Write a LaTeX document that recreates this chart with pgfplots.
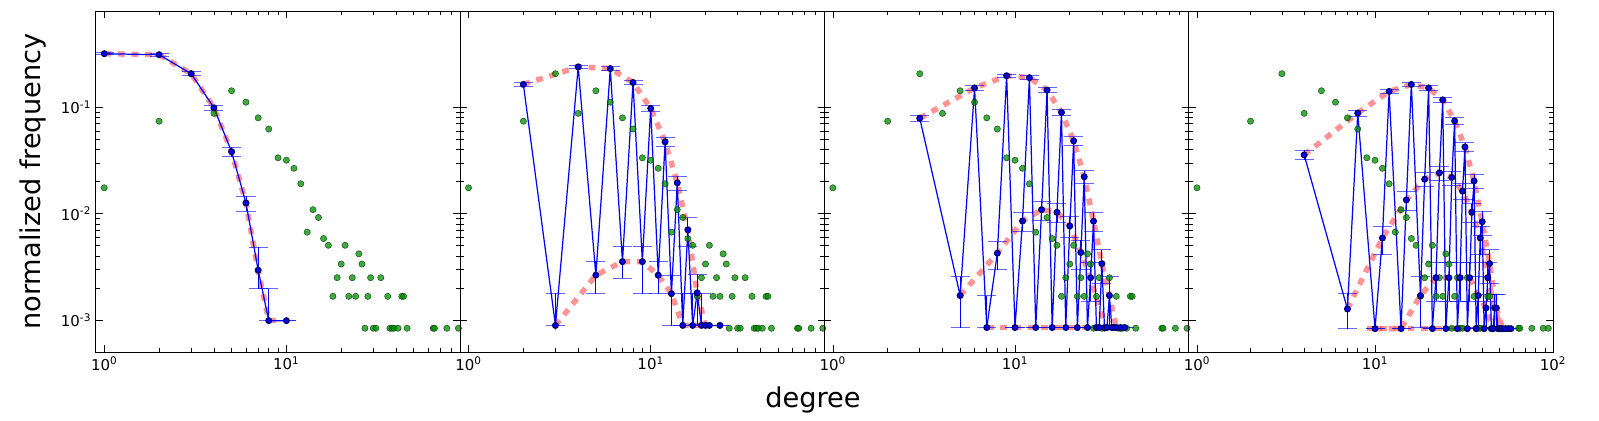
\documentclass[border=0pt]{standalone}
\usepackage{fontspec}
\setmainfont{DejaVu Sans}
\usepackage{pgfplots}
\usepackage{pgfplotstable}
\pgfplotsset{compat=1.18}

\pgfplotstableread{
x y
1 0.0175
2 0.074
3 0.207
4 0.0877
5 0.143
6 0.1117
7 0.0796
8 0.0625
9 0.0335
10 0.0318
11 0.0267
12 0.0191
13 0.0067
14 0.0109
15 0.0092
16 0.00583
17 0.00504
18 0.00167
19 0.0025
20 0.00336
21 0.00504
22 0.00167
23 0.0025
24 0.00167
25 0.00419
26 0.00336
27 0.000837
28 0.00167
29 0.0025
30 0.000837
31 0.000837
33 0.0025
36 0.00167
37 0.000837
38 0.000837
39 0.000837
41 0.000837
43 0.00167
44 0.00167
46 0.000837
64 0.000837
65 0.000837
76 0.000837
88 0.000837
94 0.000837
}\grnTab

\pgfplotstableread{
x y ep em
1 0.319 0.02 0.02
2 0.312 0.03 0.03
3 0.207 0.04 0.04
4 0.099 0.06 0.06
5 0.0382 0.1 0.1
6 0.0126 0.16 0.16
7 0.00294 0.65 0.33
8 0.000987 1.0 0
10 0.000987 0 0
}\blueA
\pgfplotstableread{
x y
1 0.319
2 0.312
3 0.207
4 0.099
5 0.038
6 0.0126
7 0.0029
8 0.00099
9 0.00099
}\redA

\pgfplotstableread{
x y ep em
2 0.164 .05 .05
3 0.00089 1 0
4 0.240 .04 .04
5 0.00264 .35 .33
6 0.231 .04 .04
7 0.00354 .4 .3
8 0.171 .05 .05
9 0.00354 .4 .5
10 0.0978 .07 .07
11 0.00264 .35 .33
12 0.0473 .1 .1
13 0.00177 .5 .5
14 0.0195 .15 .15
15 0.00089 1 0
16 0.00705 .3 .3
17 0.00089 1 0
18 0.0018 .5 .5
19 0.00089 1 0
20 0.00089 0 0
21 0.00089 0 0
24 0.00089 0 0
}\blueB
\pgfplotstableread{
x y
2 0.164
4 0.24
6 0.231
8 0.171
10 0.0978
12 0.0473
14 0.0195
16 0.00705
18 0.0018
20 0.00089
}\redBa
\pgfplotstableread{
x y
3 0.00089
5 0.00264
7 0.00354
9 0.00354
11 0.00264
13 0.00177
15 0.00089
17 0.00089
19 0.00089
21 0.00089
}\redBb

\pgfplotstableread{
x y ep em
3 0.079 .06 .06
5 0.0017 .5 .5
6 0.152 .05 .05
7 0.00085 1 0
8 0.00425 .3 .3
9 0.198 .04 .04
10 0.00085 0 0
11 0.00853 .2 .2
12 0.190 .04 .04
13 0.00085 0 0
14 0.0109 .2 .2
15 0.145 .05 .05
16 0.00085 0 0
17 0.0103 .2 .2
18 0.0896 .07 .07
19 0.00085 0 0
20 0.00766 .22 .22
21 0.0483 .1 .1
22 0.00085 0 0
23 0.00431 .3 .3
24 0.0222 .14 .14
25 0.00085 0 0
26 0.0025 .4 .4
27 0.0085 .2 .2
28 0.00085 0 0
29 0.00085 0 0
30 0.00339 .35 .35
31 0.00085 0 0
32 0.00085 0 0
33 0.0017 .5 .5
34 0.00085 0 0
35 0.00085 0 0
36 0.00085 0 0
38 0.00085 0 0
40 0.00085 0 0
}\blueC
\pgfplotstableread{
x y
3 0.079
6 0.152
9 0.198
12 0.19
15 0.145
18 0.0896
21 0.0483
24 0.0222
27 0.0085
30 0.0034
33 0.0017
36 0.00085
}\redCa
\pgfplotstableread{
x y
5 0.0017
8 0.00425
11 0.00853
14 0.0109
17 0.0103
20 0.00766
23 0.0043
26 0.0025
29 0.0013
32 0.00085
}\redCb
\pgfplotstableread{
x y
7 0.00085
16 0.00085
25 0.00085
37 0.00085
}\redCc

\pgfplotstableread{
x y ep em
4 0.0357 .1 .1
7 0.00127 .4 .35
8 0.0883 .07 .07
10 0.00083 0 0
11 0.0059 .3 .3
12 0.141 .05 .05
14 0.00083 0 0
15 0.01346 .2 .2
16 0.164 .05 .05
18 0.0017 .5 .5
19 0.0211 .15 .15
20 0.152 .05 .05
21 0.00083 0 0
22 0.0025 .4 .4
23 0.0242 .15 .15
24 0.1175 .06 .06
25 0.00083 0 0
26 0.0025 .4 .4
27 0.0219 .15 .15
28 0.0745 .08 .08
29 0.00083 0 0
30 0.0025 .4 .4
31 0.0163 .17 .17
32 0.0424 .1 .1
33 0.00083 0 0
34 0.0025 .4 .4
35 0.0103 .2 .2
36 0.0203 .15 .15
37 0.00083 0 0
38 0.0017 .5 .5
39 0.0059 .3 .3
40 0.0084 .25 .25
41 0.00083 0 0
42 0.0013 .35 .35
43 0.0025 .4 .4
44 0.0034 .35 .35
45 0.00083 0 0
46 0.00083 0 0
47 0.0013 .35 .35
48 0.0013 .35 .35
49 0.00083 0 0
50 0.00083 0 0
51 0.00083 0 0
52 0.00083 0 0
54 0.00083 0 0
56 0.00083 0 0
58 0.00083 0 0
}\blueD
\pgfplotstableread{
x y
4 0.0357
8 0.0883
12 0.141
16 0.164
20 0.152
24 0.1175
28 0.0745
32 0.0424
36 0.0203
40 0.0084
44 0.0034
48 0.0013
52 0.00083
}\redDa
\pgfplotstableread{
x y
7 0.00127
11 0.0059
15 0.01346
19 0.0211
23 0.0242
27 0.0219
31 0.0163
35 0.0103
39 0.0059
43 0.0025
47 0.0013
51 0.00083
}\redDb
\pgfplotstableread{
x y
10 0.00083
14 0.00083
18 0.0017
22 0.0025
26 0.0025
30 0.0025
34 0.0025
38 0.0017
42 0.0013
46 0.00083
50 0.00083
}\redDc
\pgfplotstableread{
x y
9 0.00083
21 0.00083
33 0.00083
45 0.00083
55 0.00083
}\redDd

\pgfplotsset{
  every axis/.append style={scale only axis,
    width=267.75pt, height=250.5pt,
    ymin=5e-4, ymax=0.8,
    tick align=inside, major tick length=5pt, minor tick length=3pt,
    tick style={black, line width=0.5pt},
    axis line style={line width=0.8pt},
    ticklabel style={font=\fontsize{11}{13}\selectfont}},
}
\tikzset{
  myGrn/.style={mark=*, mark size=2.3pt,
    mark options={fill=green!55!black, draw=green!25!black, fill opacity=0.75, draw opacity=0.8}},
  myBlu/.style={blue, line width=0.9pt, mark=*, mark size=2.1pt,
    mark options={fill=blue, draw=blue!40!black}},
  myRed/.style={red!85!white, opacity=0.5, line width=4pt, dash pattern=on 5pt off 5pt},
}

\begin{document}
\begin{tikzpicture}
\useasboundingbox (-70.5pt,-50pt) rectangle (1104.75pt,258.75pt);
\begin{scope}[overlay]
\begin{axis}[xmode=log, ymode=log, xmin=0.9, xmax=90, at={(0,0)},
  xtick={1,10,100},xticklabels={10\textsuperscript{0},10\textsuperscript{1},10\textsuperscript{2}},
  ytick={0.001,0.01,0.1},
  yticklabels={10\textsuperscript{-3},10\textsuperscript{-2},10\textsuperscript{-1}},
  ylabel={normalized frequency}, ylabel style={font=\fontsize{20}{24}\selectfont, yshift=4pt}]
\addplot[only marks, myGrn] table[x=x,y=y] {\grnTab};
\addplot[myRed] table[x=x,y=y] {\redA};
\addplot[myBlu, error bars/.cd, y dir=both, y explicit relative,
  error bar style={blue, line width=0.6pt},
  error mark options={rotate=90, blue, mark size=7pt, line width=0.6pt, opacity=0.6}]
  table[x=x,y=y,y error plus=ep,y error minus=em] {\blueA};
\end{axis}
\begin{axis}[xmode=log, ymode=log, xmin=0.9, xmax=90, at={(267.75pt,0)},
  xtick={1,10,100},xticklabels={10\textsuperscript{0},10\textsuperscript{1},10\textsuperscript{2}},
  ytick={0.001,0.01,0.1}, yticklabels={}]
\addplot[only marks, myGrn] table[x=x,y=y] {\grnTab};
\addplot[myRed] table[x=x,y=y] {\redBa};
\addplot[myRed] table[x=x,y=y] {\redBb};
\addplot[myBlu, error bars/.cd, y dir=both, y explicit relative,
  error bar style={blue, line width=0.6pt},
  error mark options={rotate=90, blue, mark size=7pt, line width=0.6pt, opacity=0.6}]
  table[x=x,y=y,y error plus=ep,y error minus=em] {\blueB};
\end{axis}
\begin{axis}[xmode=log, ymode=log, xmin=0.9, xmax=90, at={(535.5pt,0)},
  xtick={1,10,100},xticklabels={10\textsuperscript{0},10\textsuperscript{1},10\textsuperscript{2}},
  ytick={0.001,0.01,0.1}, yticklabels={}]
\addplot[only marks, myGrn] table[x=x,y=y] {\grnTab};
\addplot[myRed] table[x=x,y=y] {\redCa};
\addplot[myRed] table[x=x,y=y] {\redCb};
\addplot[myRed] table[x=x,y=y] {\redCc};
\addplot[myBlu, error bars/.cd, y dir=both, y explicit relative,
  error bar style={blue, line width=0.6pt},
  error mark options={rotate=90, blue, mark size=7pt, line width=0.6pt, opacity=0.6}]
  table[x=x,y=y,y error plus=ep,y error minus=em] {\blueC};
\end{axis}
\begin{axis}[xmode=log, ymode=log, xmin=0.9, xmax=100, at={(803.25pt,0)},
  xtick={1,10,100},xticklabels={10\textsuperscript{0},10\textsuperscript{1},10\textsuperscript{2}},
  ytick={0.001,0.01,0.1}, yticklabels={}]
\addplot[only marks, myGrn] table[x=x,y=y] {\grnTab};
\addplot[myRed] table[x=x,y=y] {\redDa};
\addplot[myRed] table[x=x,y=y] {\redDb};
\addplot[myRed] table[x=x,y=y] {\redDc};
\addplot[myRed] table[x=x,y=y] {\redDd};
\addplot[myBlu, error bars/.cd, y dir=both, y explicit relative,
  error bar style={blue, line width=0.6pt},
  error mark options={rotate=90, blue, mark size=7pt, line width=0.6pt, opacity=0.6}]
  table[x=x,y=y,y error plus=ep,y error minus=em] {\blueD};
\end{axis}
\node[font=\fontsize{20}{24}\selectfont] at (527pt,-35pt) {degree};
\end{scope}
\end{tikzpicture}
\end{document}
